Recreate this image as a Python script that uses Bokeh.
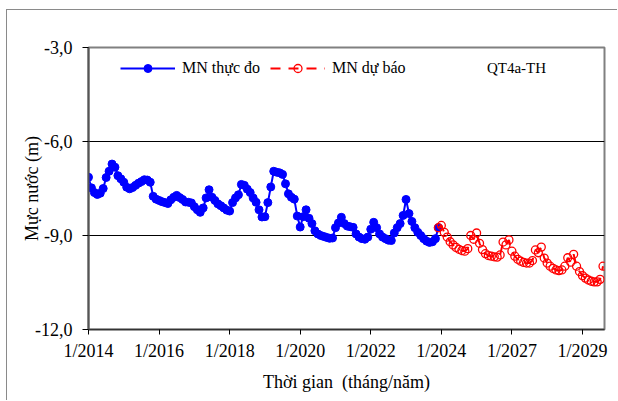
from bokeh.plotting import figure
from bokeh.models import FixedTicker, Legend, LegendItem, Label, Range1d
from bokeh.embed import file_html
from bokeh.resources import INLINE

# ---- data ----
x_tick_pos = [0, 24, 48, 72, 96, 120, 144, 168]
x_tick_labels = ["1/2014", "1/2016", "1/2018", "1/2020", "1/2022", "1/2024", "1/2027", "1/2029"]
y_ticks = [-12, -9, -6, -3]
y_tick_labels = ["-12,0", "-9,0", "-6,0", "-3,0"]

measured = [
    -7.14, -7.48, -7.63, -7.69, -7.65, -7.50, -7.15, -6.95, -6.72, -6.82,
    -7.09, -7.19, -7.30, -7.46, -7.51, -7.47, -7.40, -7.33, -7.28, -7.22,
    -7.23, -7.30, -7.75, -7.84, -7.88, -7.92, -7.95, -7.98, -7.86, -7.78,
    -7.72, -7.79, -7.85, -7.93, -7.94, -7.96, -8.08, -8.18, -8.26, -8.12,
    -7.80, -7.54, -7.78, -7.88, -7.99, -8.05, -8.12, -8.19, -8.22, -7.95,
    -7.80, -7.70, -7.37, -7.40, -7.52, -7.63, -7.80, -7.94, -8.18, -8.41,
    -8.40, -7.95, -7.45, -6.95, -6.98, -7.00, -7.05, -7.35, -7.67, -7.78,
    -7.84, -8.38, -8.73, -8.40, -8.18, -8.45, -8.62, -8.85, -8.95, -9.00,
    -9.03, -9.06, -9.09, -9.08, -8.75, -8.60, -8.42, -8.62, -8.70, -8.72,
    -8.74, -8.95, -9.05, -9.10, -9.12, -9.05, -8.80, -8.58, -8.75, -8.95,
    -9.05, -9.10, -9.15, -9.16, -8.92, -8.75, -8.62, -8.36, -7.85, -8.30,
    -8.55, -8.75, -8.90, -9.00, -9.10, -9.18, -9.22, -9.20, -9.10, -8.75,
]
forecast_start = 119
forecast = [
    -8.75, -8.68, -8.90, -9.05, -9.20, -9.30, -9.38, -9.44, -9.48, -9.50,
    -9.42, -9.00, -9.12, -8.92, -9.25, -9.45, -9.58, -9.64, -9.66, -9.68,
    -9.69, -9.62, -9.21, -9.30, -9.14, -9.50, -9.66, -9.76, -9.82, -9.86,
    -9.88, -9.88, -9.80, -9.46, -9.55, -9.37, -9.72, -9.88, -9.98, -10.05,
    -10.10, -10.12, -10.10, -9.98, -9.71, -9.85, -9.60, -9.98, -10.15, -10.28,
    -10.36, -10.42, -10.46, -10.48, -10.48, -10.40, -9.98,
]

mx = list(range(len(measured)))
fx = list(range(forecast_start, forecast_start + len(forecast)))

FONT = "Liberation Serif"

p = figure(width=611, height=391, output_backend="svg", toolbar_location=None,
           x_range=Range1d(0, 175.5), y_range=Range1d(-12, -3),
           min_border_left=81, min_border_right=14, min_border_top=37, min_border_bottom=72,
           background_fill_color="white", border_fill_color="white",
           styles={"margin-left": "6px", "margin-top": "9px",
                   "border-left": "1px solid #8a8a8a", "border-top": "1px solid #8a8a8a"})

p.outline_line_color = "#808080"
p.outline_line_width = 2

# axes
p.xaxis.ticker = FixedTicker(ticks=x_tick_pos)
p.xaxis.major_label_overrides = {t: l for t, l in zip(x_tick_pos, x_tick_labels)}
p.yaxis.ticker = FixedTicker(ticks=y_ticks)
p.yaxis.major_label_overrides = {t: l for t, l in zip(y_ticks, y_tick_labels)}
for ax in (p.xaxis[0], p.yaxis[0]):
    ax.major_label_text_font = FONT
    ax.major_label_text_font_size = "18px"
    ax.major_label_text_color = "black"
    ax.axis_label_text_font = FONT
    ax.axis_label_text_font_size = "18px"
    ax.axis_label_text_font_style = "normal"
    ax.axis_label_text_color = "black"
    ax.minor_tick_line_color = None
    ax.major_tick_in = 0
    ax.major_tick_line_color = "black"
p.xaxis.axis_label = "Thời gian\u00a0\u00a0(tháng/năm)"
p.yaxis.axis_label = "Mực nước (m)"
p.xaxis.major_tick_out = 5
p.xaxis.major_label_standoff = 6
p.xaxis.axis_label_standoff = 8
p.xaxis.axis_line_color = "#333333"
p.xaxis.axis_line_width = 1.5
p.yaxis.major_tick_out = 6
p.yaxis.major_label_standoff = 10
p.yaxis.axis_label_standoff = -10
p.yaxis.axis_line_color = "#555555"
p.yaxis.axis_line_width = 2

p.xgrid.grid_line_color = None
p.ygrid.grid_line_color = "black"
p.ygrid.grid_line_width = 1

# series
blue_small = p.scatter(mx, measured, size=5, color="#0000ff")
blue_line = p.line(mx, measured, line_color="#0000ff", line_width=2)
blue_pts = p.scatter(mx, measured, size=8, color="#0000ff")

red_line = p.line(fx, forecast, line_color="#ff0000", line_width=2, line_dash="10 8")
red_pts = p.scatter(fx, forecast, size=8, marker="circle", fill_color=None,
                    line_color="#ff0000", line_width=1.3)

legend = Legend(items=[
    LegendItem(label="MN thực đo", renderers=[blue_line, blue_small]),
    LegendItem(label="MN dự báo", renderers=[red_line, red_pts]),
], orientation="horizontal", location=(32, 251))
legend.label_text_font = FONT
legend.label_text_font_size = "16px"
legend.label_text_color = "black"
legend.glyph_width = 55
legend.glyph_height = 20
legend.label_standoff = 7
legend.spacing = 10
legend.padding = 0
legend.margin = 0
legend.border_line_color = None
legend.background_fill_alpha = 0
p.add_layout(legend, "center")

p.add_layout(Label(x=135.5, y=-3.67, text="QT4a-TH", text_font=FONT,
                   text_font_size="15px", text_color="black", text_baseline="middle"))

open("out.html", "w").write(file_html(p, INLINE))
